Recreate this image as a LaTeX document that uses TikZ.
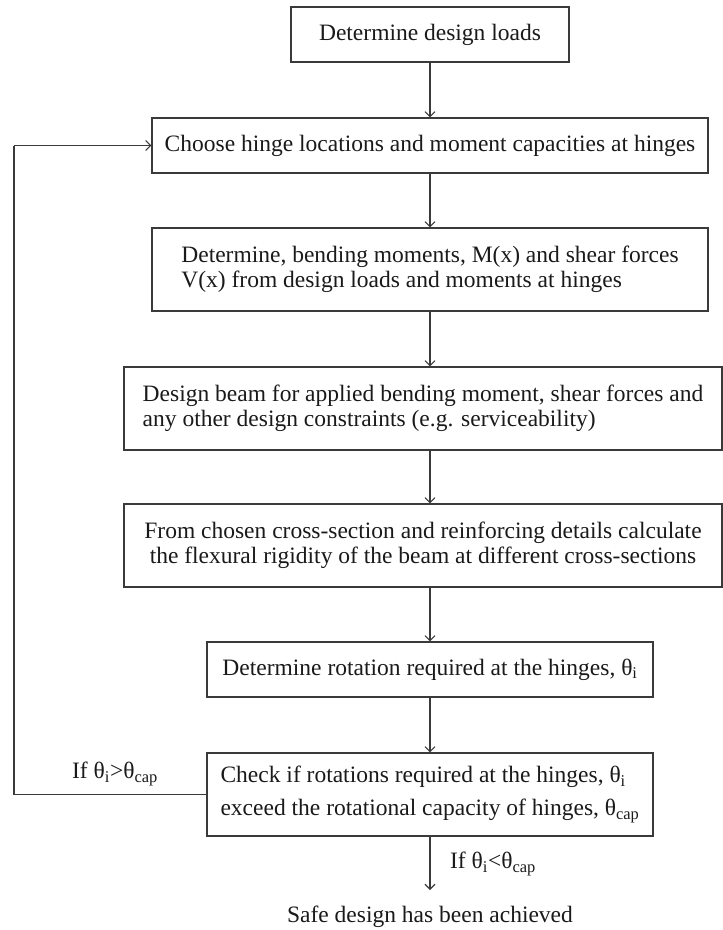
\documentclass[tikz,border=0pt]{standalone}
\usepackage{fontspec}
\setmainfont{Liberation Serif}
\usetikzlibrary{arrows.meta}
\definecolor{linecol}{HTML}{3A3A3A}
\definecolor{txtcol}{HTML}{1A1A1A}
\begin{document}
\begin{tikzpicture}[x=1pt,y=-1pt,
  every node/.style={text=txtcol,font=\fontsize{23.5}{25}\selectfont},
  boxnode/.style={draw=linecol,line width=1.1pt,inner sep=0pt,rectangle},
  arr/.style={draw=linecol,line width=1.1pt,-{Straight Barb[length=5pt,width=10pt]}},
  ln/.style={draw=linecol,line width=1.1pt}]
\useasboundingbox (0,0) rectangle (723,930);
\node[boxnode,minimum width=278pt,minimum height=55pt] (b1) at (430,34.5) {Determine design loads};
\node[boxnode,minimum width=556pt,minimum height=55pt] (b2) at (430,145.5) {Choose hinge locations and moment capacities at hinges};
\node[boxnode,minimum width=556pt,minimum height=83pt,align=left] (b3) at (430,269.5) {Determine, bending moments, M(x) and shear forces\\V(x) from design loads and moments at hinges};
\node[boxnode,minimum width=598pt,minimum height=83pt,align=left] (b4) at (423,408.5) {Design beam for applied bending moment, shear forces and\\any other design constraints (e.g. serviceability)};
\node[boxnode,minimum width=598pt,minimum height=83pt,align=center] (b5) at (423,545.5) {From chosen cross-section and reinforcing details calculate\\the flexural rigidity of the beam at different cross-sections};
\node[boxnode,minimum width=446pt,minimum height=55pt] (b6) at (430,669.5) {Determine rotation required at the hinges, θ\textsubscript{i}};
\node[boxnode,minimum width=446pt,minimum height=83pt,align=left] (b7) at (430,794.5) {Check if rotations required at the hinges, θ\textsubscript{i}\\[8pt]exceed the rotational capacity of hinges, θ\textsubscript{cap}};
\node[inner sep=0pt] (safe) at (430,917) {Safe design has been achieved};
\coordinate (c1) at (14,794.5);
\coordinate (c2) at (14,145.5);
\coordinate (e7) at (430,890);
\node[inner sep=0pt] (l1) at (115,774) {If θ\textsubscript{i}>θ\textsubscript{cap}};
\node[inner sep=0pt] (l2) at (493,864) {If θ\textsubscript{i}<θ\textsubscript{cap}};
\draw[arr] (b1.south) -- (b2.north);
\draw[arr] (b2.south) -- (b3.north);
\draw[arr] (b3.south) -- (b3.south |- b4.north);
\draw[arr] (b3.south |- b4.south) -- (b3.south |- b5.north);
\draw[arr] (b3.south |- b5.south) -- (b6.north);
\draw[arr] (b6.south) -- (b7.north);
\draw[arr] (b7.south) -- (e7);
\draw[ln] (b7.west) -- (c1) -- (c2);
\draw[arr] (c2) -- (b2.west);
\end{tikzpicture}
\end{document}
